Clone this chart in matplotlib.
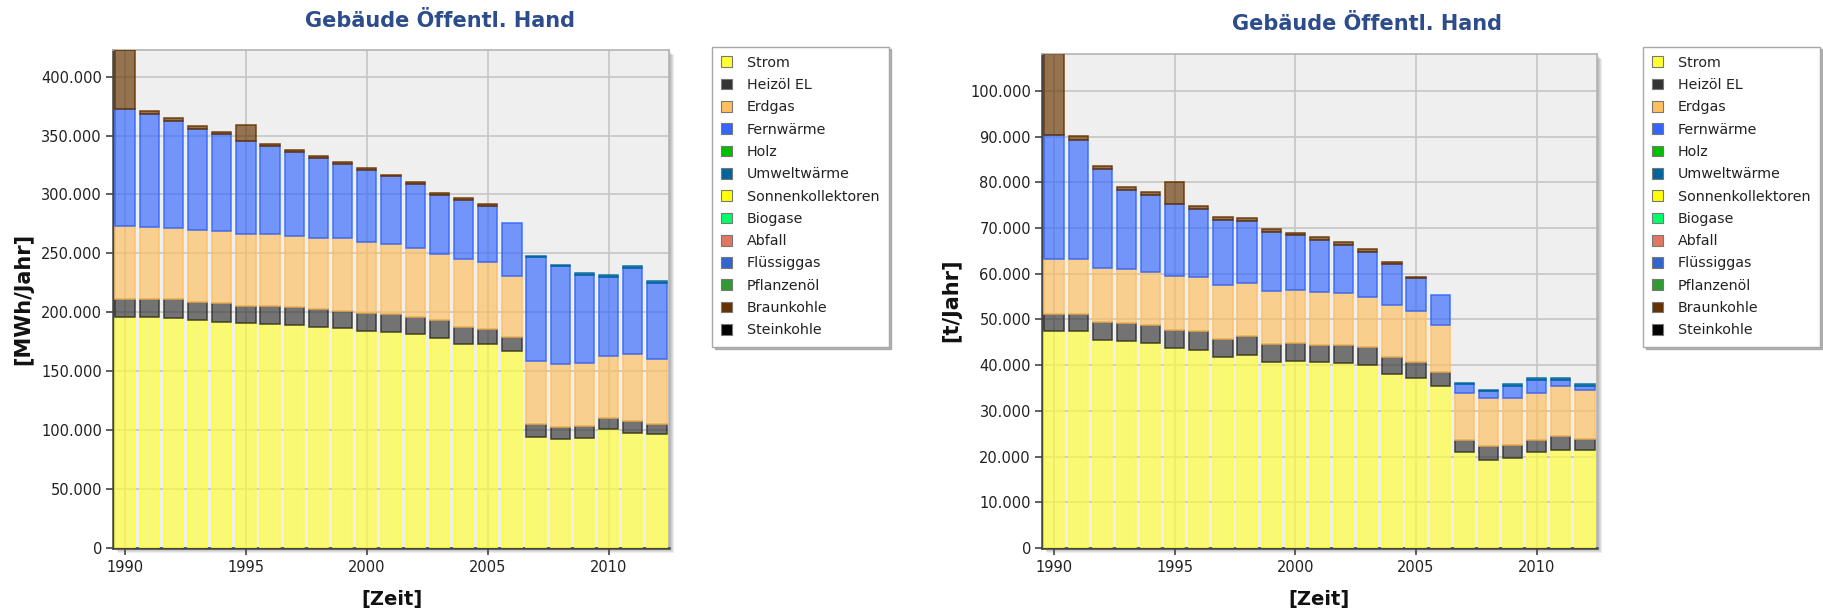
import matplotlib
matplotlib.use("Agg")
import matplotlib.pyplot as plt
import numpy as np
from matplotlib.patches import Patch, Rectangle
from matplotlib.ticker import FuncFormatter, MultipleLocator
from matplotlib.colors import to_rgba

# ---------------- data ----------------
years = list(range(1990, 2013))
categories = ["Strom", "Heizöl EL", "Erdgas", "Fernwärme", "Holz", "Umweltwärme",
              "Sonnenkollektoren", "Biogase", "Abfall", "Flüssiggas", "Pflanzenöl",
              "Braunkohle", "Steinkohle"]
colors = ["#ffff33", "#333333", "#ffbf5f", "#3366ff", "#00c000", "#006699",
          "#ffff00", "#00ff66", "#e07860", "#3366cc", "#339933", "#663300", "#000000"]

# Energy [MWh/Jahr]
strom_L = [196400, 196000, 195500, 193600, 192100, 191000, 189900, 189300, 187600, 187000, 184500, 183400,
           181700, 178500, 173200, 172900, 167200, 94400, 92400, 93500, 100600, 97200, 96900]
heizoel_L = [15000, 15000, 15500, 15400, 15600, 14700, 15300, 15000, 15000, 14500, 15000, 15300,
             14700, 15100, 14100, 13300, 11600, 10700, 10500, 10200, 9900, 10500, 8200]
erdgas_L = [61500, 61600, 60800, 61100, 61000, 60700, 60900, 60700, 60700, 61200, 60100, 59200,
            58600, 56100, 58100, 56100, 51900, 53600, 53500, 53000, 52200, 57000, 55300]
fernw_L = [99800, 95800, 90700, 85800, 82200, 78800, 74800, 71100, 67400, 63500, 60900, 57500,
           53600, 50100, 49900, 47900, 44800, 88000, 82700, 75000, 67100, 73300, 64800]
holz_L = [0] * 23
umwelt_L = [0] * 17 + [1000, 1200, 1300, 1500, 1500, 1500]
sonne_L = [0] * 23
biogase_L = [0] * 23
abfall_L = [0] * 23
fluessig_L = [0] * 23
pflanzen_L = [0] * 23
braun_L = [49900, 2300, 2200, 2300, 1800, 13600, 2300, 2000, 2000, 1700, 2000, 1400,
           1700, 1400, 1700, 1700, 0, 0, 0, 0, 0, 0, 0]
stein_L = [0] * 23

# Emissions [t/Jahr]
strom_R = [47500, 47400, 45500, 45300, 44800, 43800, 43400, 41800, 42300, 40700, 40900, 40600,
           40500, 40100, 38100, 37300, 35500, 20900, 19300, 19700, 21000, 21500, 21500]
heizoel_R = [3800, 3900, 4000, 4000, 4100, 4000, 4000, 4000, 4000, 4000, 3900, 3800,
             3900, 3900, 3600, 3500, 3000, 2800, 3000, 2900, 2700, 3000, 2400]
erdgas_R = [11900, 11900, 11800, 11800, 11600, 11800, 11800, 11800, 11700, 11500, 11700, 11700,
            11300, 10900, 11500, 11100, 10200, 10300, 10500, 10200, 10300, 11000, 10600]
fernw_R = [27200, 26100, 21600, 17200, 16700, 15700, 14900, 14200, 13600, 12900, 12000, 11300,
           10700, 9900, 8900, 7100, 6600, 1800, 1500, 2700, 2800, 1200, 900]
holz_R = [0] * 23
umwelt_R = [0] * 17 + [300, 200, 300, 400, 400, 400]
sonne_R = [0] * 23
biogase_R = [0] * 23
abfall_R = [0] * 23
fluessig_R = [0] * 23
pflanzen_R = [0] * 23
braun_R = [17800, 800, 700, 700, 700, 4700, 700, 700, 600, 600, 500, 600,
           500, 600, 500, 400, 0, 0, 0, 0, 0, 0, 0]
stein_R = [0] * 23

series_L = [strom_L, heizoel_L, erdgas_L, fernw_L, holz_L, umwelt_L, sonne_L, biogase_L,
            abfall_L, fluessig_L, pflanzen_L, braun_L, stein_L]
series_R = [strom_R, heizoel_R, erdgas_R, fernw_R, holz_R, umwelt_R, sonne_R, biogase_R,
            abfall_R, fluessig_R, pflanzen_R, braun_R, stein_R]

title = "Gebäude Öffentl. Hand"
ylabel_L = "[MWh/Jahr]"
ylabel_R = "[t/Jahr]"
xlabel = "[Zeit]"
xticks = [1990, 1995, 2000, 2005, 2010]

# ---------------- figure ----------------
plt.rcParams['font.family'] = ['DejaVu Sans']
W, H = 1824, 612
fig = plt.figure(figsize=(W / 100, H / 100), dpi=100)
fig.patch.set_facecolor("white")


def fx(px):
    return px / W


def fy(py):
    return 1 - py / H


def thousands(v, pos):
    return f"{int(round(v)):,}".replace(",", ".")


def add_shadow(bbox_px, steps=5):
    x0, y0, x1, y1 = bbox_px  # left, top, right, bottom in pixels
    for i in range(steps, 0, -1):
        r = Rectangle((fx(x0 + i), fy(y1 + i)), fx(x1 - x0), (y1 - y0) / H,
                      transform=fig.transFigure, facecolor="#000000",
                      alpha=0.07, edgecolor="none", zorder=-5)
        fig.patches.append(r)


def draw_panel(rect_px, series, ylab, title_xy, ylab_x, xlab_x, ystep, leg_x):
    left, top, right, bottom = rect_px
    add_shadow(rect_px)
    ax = fig.add_axes([fx(left), fy(bottom), fx(right - left), (bottom - top) / H])
    ax.set_facecolor("#efefef")
    x = np.array(years)
    bottom_acc = np.zeros(len(years))
    for vals, c in zip(series, colors):
        v = np.array(vals, dtype=float)
        m = v > 0
        if m.any():
            ax.bar(x[m], v[m], width=0.8, bottom=bottom_acc[m],
                   facecolor=to_rgba(c, 0.66), edgecolor=to_rgba(c, 0.9),
                   linewidth=1.1, zorder=3)
        bottom_acc += v
    ax.set_xlim(1989.5, 2012.5)
    ax.set_ylim(0, bottom_acc.max())
    ax.set_xticks(xticks)
    ax.yaxis.set_major_locator(MultipleLocator(ystep))
    ax.yaxis.set_major_formatter(FuncFormatter(thousands))
    ax.grid(True, color="#c6c6c6", linewidth=1.2, zorder=0)
    ax.set_axisbelow(True)
    for s in ["left", "bottom"]:
        ax.spines[s].set_color("#444444")
        ax.spines[s].set_linewidth(1.8)
    for s in ["top", "right"]:
        ax.spines[s].set_color("#b4b4b4")
        ax.spines[s].set_linewidth(1.2)
    ax.tick_params(axis="both", direction="out", length=5, width=1.2, colors="#444444",
                   labelcolor="#222222", labelsize=10.5)
    ax.tick_params(axis="x", pad=4)
    ax.tick_params(axis="y", pad=3)
    fig.text(fx(title_xy[0]), fy(title_xy[1]), title, ha="center", va="center",
             fontsize=15, fontweight="bold", color="#2c4c8c")
    fig.text(fx(ylab_x), fy((top + bottom) / 2), ylab, ha="center", va="center",
             rotation=90, fontsize=15, fontweight="bold", color="#111111")
    fig.text(fx(xlab_x), fy(599), xlabel, ha="center", va="center",
             fontsize=14, fontweight="bold", color="#111111")
    handles = [Patch(facecolor=c, edgecolor="#777777", linewidth=0.8) for c in colors]
    leg = fig.legend(handles, categories, loc="upper left",
                     bbox_to_anchor=(fx(leg_x), fy(46.5)), bbox_transform=fig.transFigure,
                     borderaxespad=0, fontsize=10.3, frameon=True, fancybox=False,
                     handlelength=0.78, handleheight=0.78, handletextpad=1.0,
                     labelspacing=0.58, borderpad=0.65,
                     shadow={"color": "#888888", "alpha": 0.6})
    leg.get_frame().set_edgecolor("#a8a8a8")
    leg.get_frame().set_linewidth(1.0)
    leg.get_frame().set_facecolor("white")
    for t in leg.get_texts():
        t.set_color("#222222")
    return ax


draw_panel((113, 50, 669, 548), series_L, ylabel_L, (440, 21), 23, 392, 50000, 712)
draw_panel((1042, 53.5, 1597, 548), series_R, ylabel_R, (1367, 24), 951, 1319, 10000, 1643)

fig.savefig("out.png", dpi=100, facecolor="white")
